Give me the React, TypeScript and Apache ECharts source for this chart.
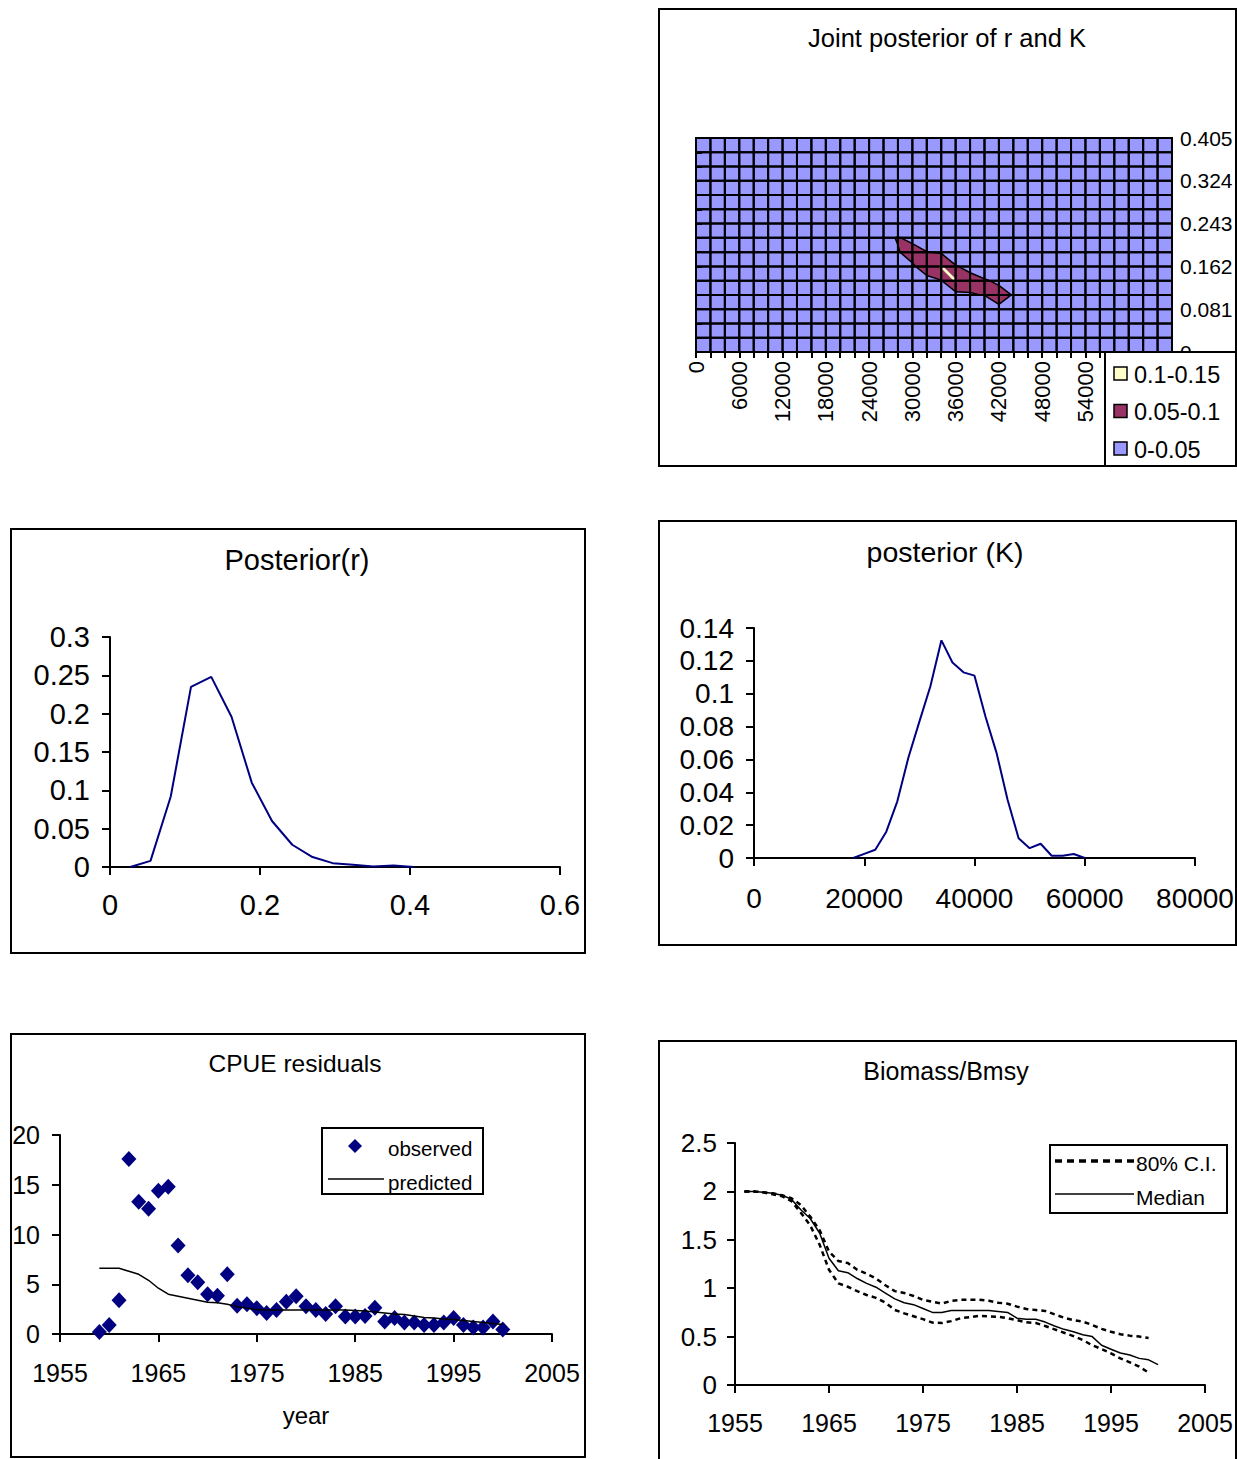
import React, { useEffect, useRef } from "react";
import * as echarts from "echarts";

const FONT = "Liberation Sans, Arial, Helvetica, sans-serif";

// ---------- Joint posterior of r and K ----------
const jointKTicks = [
  0, 2000, 4000, 6000, 8000, 10000, 12000, 14000, 16000, 18000, 20000, 22000,
  24000, 26000, 28000, 30000, 32000, 34000, 36000, 38000, 40000, 42000, 44000,
  46000, 48000, 50000, 52000, 54000, 56000, 58000, 60000, 62000, 64000, 66000,
];
const jointRTicks = [
  0, 0.027, 0.054, 0.081, 0.108, 0.135, 0.162, 0.189, 0.216, 0.243, 0.27,
  0.297, 0.324, 0.351, 0.378, 0.405,
];
// non-zero cells of the joint posterior (K, r, probability)
const jointPeakK = [
  26000, 28000, 28000, 30000, 30000, 30000, 32000, 32000, 32000, 34000, 34000,
  34000, 36000, 36000, 36000, 38000, 38000, 38000, 40000, 40000, 42000, 42000,
  42000, 44000, 44000, 46000, 46000,
];
const jointPeakR = [
  0.216, 0.216, 0.189, 0.216, 0.189, 0.162, 0.189, 0.162, 0.135, 0.189, 0.162,
  0.135, 0.162, 0.135, 0.108, 0.162, 0.135, 0.108, 0.135, 0.108, 0.135, 0.108,
  0.081, 0.108, 0.081, 0.108, 0.081,
];
const jointPeakP = [
  0.03, 0.055, 0.045, 0.03, 0.08, 0.04, 0.052, 0.085, 0.03, 0.045, 0.102,
  0.048, 0.055, 0.102, 0.035, 0.03, 0.075, 0.045, 0.058, 0.052, 0.035, 0.08,
  0.035, 0.045, 0.04, 0.025, 0.02,
];
const jointBandLower = [0.05, 0.1];
const jointBandColors = ["#993366", "#FFFFCC"];
const jointLegendLabels = ["0.1-0.15", "0.05-0.1", "0-0.05"];
const jointLegendColors = ["#FFFFCC", "#993366", "#9999FF"];

// ---------- Posterior(r) ----------
const rGrid = [
  0.027, 0.054, 0.081, 0.108, 0.135, 0.162, 0.189, 0.216, 0.243, 0.27, 0.297,
  0.324, 0.351, 0.378, 0.405,
];
const rPosterior = [
  0, 0.008, 0.092, 0.235, 0.248, 0.196, 0.11, 0.06, 0.029, 0.013, 0.005,
  0.003, 0.0005, 0.002, 0,
];

// ---------- posterior (K) ----------
const kGrid = [
  18000, 20000, 22000, 24000, 26000, 28000, 30000, 32000, 34000, 36000, 38000,
  40000, 42000, 44000, 46000, 48000, 50000, 52000, 54000, 56000, 58000, 60000,
];
const kPosterior = [
  0, 0.0025, 0.005, 0.016, 0.0345, 0.061, 0.083, 0.1045, 0.1325, 0.119, 0.113,
  0.111, 0.086, 0.064, 0.0355, 0.012, 0.006, 0.0087, 0.0014, 0.0014, 0.0024, 0,
];

// ---------- CPUE residuals ----------
const cpueYears = [
  1959, 1960, 1961, 1962, 1963, 1964, 1965, 1966, 1967, 1968, 1969, 1970, 1971,
  1972, 1973, 1974, 1975, 1976, 1977, 1978, 1979, 1980, 1981, 1982, 1983, 1984,
  1985, 1986, 1987, 1988, 1989, 1990, 1991, 1992, 1993, 1994, 1995, 1996, 1997,
  1998, 1999, 2000,
];
const cpueObserved = [
  0.2, 0.9, 3.4, 17.6, 13.3, 12.6, 14.4, 14.8, 8.9, 5.9, 5.2, 4.0, 3.85, 6.0,
  2.85, 3.0, 2.6, 2.1, 2.4, 3.25, 3.8, 2.8, 2.4, 2.0, 2.8, 1.75, 1.75, 1.8,
  2.65, 1.25, 1.6, 1.15, 1.15, 0.9, 0.9, 1.15, 1.6, 0.9, 0.65, 0.65, 1.25, 0.45,
];
const cpuePredicted = [
  6.6, 6.6, 6.6, 6.3, 6.0, 5.4, 4.6, 4.0, 3.8, 3.6, 3.4, 3.2, 3.15, 3.0, 2.75,
  2.6, 2.45, 2.4, 2.4, 2.4, 2.4, 2.4, 2.4, 2.4, 2.4, 2.4, 2.35, 2.3, 2.2, 2.1,
  2.0, 1.95, 1.8, 1.65, 1.6, 1.5, 1.45, 1.35, 1.25, 1.15, 1.05, 0.95,
];

// ---------- Biomass/Bmsy ----------
const bioYears = [
  1956, 1957, 1958, 1959, 1960, 1961, 1962, 1963, 1964, 1965, 1966, 1967, 1968,
  1969, 1970, 1971, 1972, 1973, 1974, 1975, 1976, 1977, 1978, 1979, 1980, 1981,
  1982, 1983, 1984, 1985, 1986, 1987, 1988, 1989, 1990, 1991, 1992, 1993, 1994,
  1995, 1996, 1997, 1998, 1999, 2000,
];
const bioMedian = [
  2.0, 2.0, 1.99, 1.98, 1.96, 1.92, 1.81, 1.72, 1.57, 1.31, 1.18, 1.16, 1.1,
  1.05, 1.01, 0.95, 0.89, 0.85, 0.83, 0.79, 0.75, 0.75, 0.77, 0.77, 0.77, 0.77,
  0.77, 0.76, 0.75, 0.69, 0.68, 0.68, 0.65, 0.61, 0.575, 0.55, 0.52, 0.5, 0.41,
  0.37, 0.33, 0.31, 0.275, 0.26, 0.21,
];
const bioUpper = [
  2.0, 2.0, 1.99, 1.98, 1.96, 1.93, 1.86, 1.74, 1.6, 1.38, 1.28, 1.26, 1.19,
  1.15, 1.1, 1.03, 0.97, 0.95, 0.92, 0.88, 0.86, 0.84, 0.87, 0.88, 0.88, 0.88,
  0.87, 0.85, 0.84, 0.81, 0.785, 0.775, 0.765, 0.73, 0.695, 0.67, 0.655, 0.62,
  0.58, 0.55, 0.525, 0.51, 0.5, 0.485,
];
const bioLower = [
  2.0, 2.0, 1.99, 1.97, 1.95, 1.9, 1.78, 1.65, 1.45, 1.19, 1.05, 1.015, 0.97,
  0.93, 0.9, 0.85, 0.775, 0.74, 0.71, 0.68, 0.645, 0.64, 0.66, 0.69, 0.7, 0.715,
  0.71, 0.705, 0.69, 0.67, 0.647, 0.64, 0.61, 0.575, 0.54, 0.505, 0.465, 0.41,
  0.372, 0.327, 0.275, 0.234, 0.19, 0.128,
];

const BASE_YEAR = 1955;

function buildJointGrid(): number[][] {
  const g = jointKTicks.map(() => jointRTicks.map(() => 0));
  jointPeakK.forEach((k, n) => {
    const i = jointKTicks.indexOf(k);
    const j = jointRTicks.indexOf(jointPeakR[n]);
    if (i >= 0 && j >= 0) g[i][j] = jointPeakP[n];
  });
  return g;
}

const black = "#000";

function axisCommon(fs: number, margin: number) {
  return {
    axisLine: { show: true, onZero: false, lineStyle: { color: black, width: 2 } },
    axisTick: { show: true, length: 8, lineStyle: { color: black, width: 2 } },
    axisLabel: { color: black, fontSize: fs, fontFamily: FONT, margin },
    splitLine: { show: false },
  };
}

export default function App() {
  const ref = useRef<HTMLDivElement>(null);

  useEffect(() => {
    document.body.style.margin = "0";
    if (!ref.current) return;
    const chart = echarts.init(ref.current, undefined, { renderer: "svg" });
    const vgrid = buildJointGrid();

    const cells: number[][] = [];
    for (let i = 0; i < jointKTicks.length - 1; i++) {
      for (let j = 0; j < jointRTicks.length - 1; j++) {
        cells.push([jointKTicks[i], jointRTicks[j], i, j]);
      }
    }

    const renderCell = (params: any, api: any) => {
      const i = api.value(2) as number;
      const j = api.value(3) as number;
      const idx = [
        [i, j],
        [i + 1, j],
        [i + 1, j + 1],
        [i, j + 1],
      ];
      const corners = idx.map(([a, b]) => ({
        p: api.coord([jointKTicks[a], jointRTicks[b]]) as number[],
        v: vgrid[a][b],
      }));
      const children: any[] = [];
      jointBandLower.forEach((t, bi) => {
        const poly: number[][] = [];
        const segs: number[][][] = [];
        let firstEntry: number[] | null = null;
        let lastExit: number[] | null = null;
        for (let k = 0; k < 4; k++) {
          const a = corners[k];
          const b = corners[(k + 1) % 4];
          const ina = a.v >= t;
          const inb = b.v >= t;
          if (ina) poly.push(a.p);
          if (ina !== inb) {
            const f = (t - a.v) / (b.v - a.v);
            const pt = [a.p[0] + f * (b.p[0] - a.p[0]), a.p[1] + f * (b.p[1] - a.p[1])];
            poly.push(pt);
            if (ina) lastExit = pt;
            else if (lastExit) {
              segs.push([lastExit, pt]);
              lastExit = null;
            } else firstEntry = pt;
          }
        }
        if (lastExit && firstEntry) segs.push([lastExit, firstEntry]);
        if (poly.length >= 3) {
          children.push({
            type: "polygon",
            z2: 1 + bi,
            shape: { points: poly },
            style: {
              fill: jointBandColors[bi],
              stroke: bi === 1 ? "#FFFFCC" : jointBandColors[bi],
              lineWidth: bi === 1 ? 2 : 0.5,
            },
          });
        }
        if (bi === 0) {
          segs.forEach((s) =>
            children.push({
              type: "line",
              z2: 10,
              shape: { x1: s[0][0], y1: s[0][1], x2: s[1][0], y2: s[1][1] },
              style: { stroke: black, lineWidth: 1.5 },
            })
          );
        }
      });
      // cell outline (the surface grid)
      const p0 = corners[0].p;
      const p2 = corners[2].p;
      children.push({
        type: "rect",
        z2: 20,
        shape: {
          x: Math.min(p0[0], p2[0]),
          y: Math.min(p0[1], p2[1]),
          width: Math.abs(p2[0] - p0[0]),
          height: Math.abs(p2[1] - p0[1]),
        },
        style: { fill: "none", stroke: black, lineWidth: 2 },
      });
      return { type: "group", children };
    };

    const textEl = (text: string, x: number, y: number, fs: number, align = "center") => ({
      type: "text",
      x,
      y,
      z: 100,
      style: {
        text,
        fontSize: fs,
        fontFamily: FONT,
        fill: black,
        textAlign: align,
        textVerticalAlign: "middle",
      },
    });
    const boxEl = (x: number, y: number, w: number, h: number, fill = "none", lw = 2) => ({
      type: "rect",
      z: 100,
      shape: { x, y, width: w, height: h },
      style: { fill, stroke: black, lineWidth: lw },
    });

    const graphics: any[] = [
      // panel borders
      boxEl(659, 9, 577, 457),
      boxEl(11, 529, 574, 424),
      boxEl(659, 521, 577, 424),
      boxEl(11, 1034, 574, 423),
      boxEl(659, 1041, 577, 440),
      // titles
      textEl("Joint posterior of r and K", 947, 38, 25.5),
      textEl("Posterior(r)", 297, 560, 29),
      textEl("posterior (K)", 945, 552, 28.5),
      textEl("CPUE residuals", 295, 1063, 24.5),
      textEl("Biomass/Bmsy", 946, 1071, 25),
      textEl("year", 306, 1415, 24),
      // joint legend
      boxEl(1105, 352, 131, 114, "#fff", 2),
      ...jointLegendLabels.flatMap((lab, n) => [
        {
          type: "rect",
          z: 101,
          shape: { x: 1114, y: 367 + n * 37.5, width: 13, height: 13 },
          style: { fill: jointLegendColors[n], stroke: black, lineWidth: 1.5 },
        },
        textEl(lab, 1134, 374.5 + n * 37.5, 23.5, "left"),
      ]),
      // CPUE legend
      boxEl(322, 1128, 161, 66, "#fff", 2),
      {
        type: "polygon",
        z: 101,
        shape: { points: [[355, 1139], [362, 1146], [355, 1153], [348, 1146]] },
        style: { fill: "#000080" },
      },
      textEl("observed", 388, 1148, 20.5, "left"),
      {
        type: "line",
        z: 101,
        shape: { x1: 328, y1: 1179, x2: 384, y2: 1179 },
        style: { stroke: black, lineWidth: 1.5 },
      },
      textEl("predicted", 388, 1182, 20.5, "left"),
      // Biomass legend
      boxEl(1050, 1145, 177, 68, "#fff", 2),
      {
        type: "line",
        z: 101,
        shape: { x1: 1055, y1: 1161, x2: 1134, y2: 1161 },
        style: { stroke: black, lineWidth: 3.5, lineDash: [7, 5] },
      },
      textEl("80% C.I.", 1136, 1163, 21, "left"),
      {
        type: "line",
        z: 101,
        shape: { x1: 1055, y1: 1194, x2: 1134, y2: 1194 },
        style: { stroke: black, lineWidth: 1.5 },
      },
      textEl("Median", 1136, 1197, 21, "left"),
    ];

    const yearFmt = (v: number) => String(BASE_YEAR + v);
    const plainFmt = (v: number) => String(v);

    const option: any = {
      animation: false,
      backgroundColor: "#fff",
      textStyle: { fontFamily: FONT },
      grid: [
        { left: 696, top: 138, width: 476, height: 214, show: true, backgroundColor: "#9999FF", borderWidth: 0 },
        { left: 110, top: 637, width: 450, height: 230 },
        { left: 754, top: 628, width: 441, height: 230 },
        { left: 60, top: 1135, width: 492, height: 199 },
        { left: 735, top: 1143, width: 470, height: 242 },
      ],
      xAxis: [
        {
          gridIndex: 0,
          type: "value",
          min: 0,
          max: 66000,
          interval: 6000,
          axisLine: { show: true, lineStyle: { color: black, width: 2 } },
          axisTick: { show: true, length: 6, lineStyle: { color: black, width: 2 } },
          minorTick: { show: true, splitNumber: 3, length: 6, lineStyle: { color: black, width: 2 } },
          splitLine: { show: false },
          axisLabel: { color: black, fontSize: 22, fontFamily: FONT, rotate: 90, margin: 9, formatter: plainFmt },
        },
        {
          gridIndex: 1,
          type: "value",
          min: 0,
          max: 0.6,
          interval: 0.2,
          ...axisCommon(29, 23),
        },
        {
          gridIndex: 2,
          type: "value",
          min: 0,
          max: 80000,
          interval: 20000,
          ...axisCommon(28, 26),
          axisLabel: { color: black, fontSize: 28, fontFamily: FONT, margin: 26, formatter: plainFmt },
        },
        {
          gridIndex: 3,
          type: "value",
          min: 0,
          max: 50,
          interval: 10,
          ...axisCommon(25, 26),
          axisLabel: { color: black, fontSize: 25, fontFamily: FONT, margin: 26, formatter: yearFmt },
        },
        {
          gridIndex: 4,
          type: "value",
          min: 0,
          max: 50,
          interval: 10,
          ...axisCommon(25, 25),
          axisLabel: { color: black, fontSize: 25, fontFamily: FONT, margin: 25, formatter: yearFmt },
        },
      ],
      yAxis: [
        {
          gridIndex: 0,
          type: "value",
          position: "right",
          min: 0,
          max: 0.405,
          interval: 0.081,
          axisLine: { show: true, lineStyle: { color: black, width: 2 } },
          axisTick: { show: true, length: 6, lineStyle: { color: black, width: 2 } },
          minorTick: { show: true, splitNumber: 3, length: 6, lineStyle: { color: black, width: 2 } },
          splitLine: { show: false },
          axisLabel: {
            color: black,
            fontSize: 21,
            fontFamily: FONT,
            margin: 8,
            formatter: (v: number) => (v === 0 ? "0" : v.toFixed(3)),
          },
        },
        { gridIndex: 1, type: "value", min: 0, max: 0.3, interval: 0.05, ...axisCommon(29, 20) },
        { gridIndex: 2, type: "value", min: 0, max: 0.14, interval: 0.02, ...axisCommon(28, 20) },
        { gridIndex: 3, type: "value", min: 0, max: 20, interval: 5, ...axisCommon(25, 20) },
        { gridIndex: 4, type: "value", min: 0, max: 2.5, interval: 0.5, ...axisCommon(26, 18) },
      ],
      series: [
        {
          type: "custom",
          xAxisIndex: 0,
          yAxisIndex: 0,
          silent: true,
          z: 2,
          renderItem: renderCell,
          data: cells,
          encode: { x: 0, y: 1 },
          clip: false,
        },
        {
          type: "line",
          xAxisIndex: 1,
          yAxisIndex: 1,
          symbol: "none",
          lineStyle: { color: "#000080", width: 2 },
          data: rGrid.map((r, i) => [r, rPosterior[i]]),
        },
        {
          type: "line",
          xAxisIndex: 2,
          yAxisIndex: 2,
          symbol: "none",
          lineStyle: { color: "#000080", width: 2 },
          data: kGrid.map((k, i) => [k, kPosterior[i]]),
        },
        {
          type: "line",
          name: "predicted",
          xAxisIndex: 3,
          yAxisIndex: 3,
          symbol: "none",
          lineStyle: { color: black, width: 1.5 },
          data: cpueYears.map((y, i) => [y - BASE_YEAR, cpuePredicted[i]]),
        },
        {
          type: "scatter",
          name: "observed",
          xAxisIndex: 3,
          yAxisIndex: 3,
          symbol: "diamond",
          symbolSize: [15, 16],
          itemStyle: { color: "#000080", opacity: 1 },
          data: cpueYears.map((y, i) => [y - BASE_YEAR, cpueObserved[i]]),
        },
        {
          type: "line",
          name: "80% C.I.",
          xAxisIndex: 4,
          yAxisIndex: 4,
          symbol: "none",
          lineStyle: { color: black, width: 2.5, type: [5, 4] },
          data: bioUpper.map((v, i) => [bioYears[i] - BASE_YEAR, v]),
        },
        {
          type: "line",
          name: "80% C.I. lower",
          xAxisIndex: 4,
          yAxisIndex: 4,
          symbol: "none",
          lineStyle: { color: black, width: 2.5, type: [5, 4] },
          data: bioLower.map((v, i) => [bioYears[i] - BASE_YEAR, v]),
        },
        {
          type: "line",
          name: "Median",
          xAxisIndex: 4,
          yAxisIndex: 4,
          symbol: "none",
          lineStyle: { color: black, width: 1.5 },
          data: bioMedian.map((v, i) => [bioYears[i] - BASE_YEAR, v]),
        },
      ],
      graphic: { elements: graphics },
    };

    chart.setOption(option);
    return () => chart.dispose();
  }, []);

  return (
    <div
      ref={ref}
      style={{ position: "absolute", left: 0, top: 0, width: 1237, height: 1459, background: "#fff" }}
    />
  );
}
